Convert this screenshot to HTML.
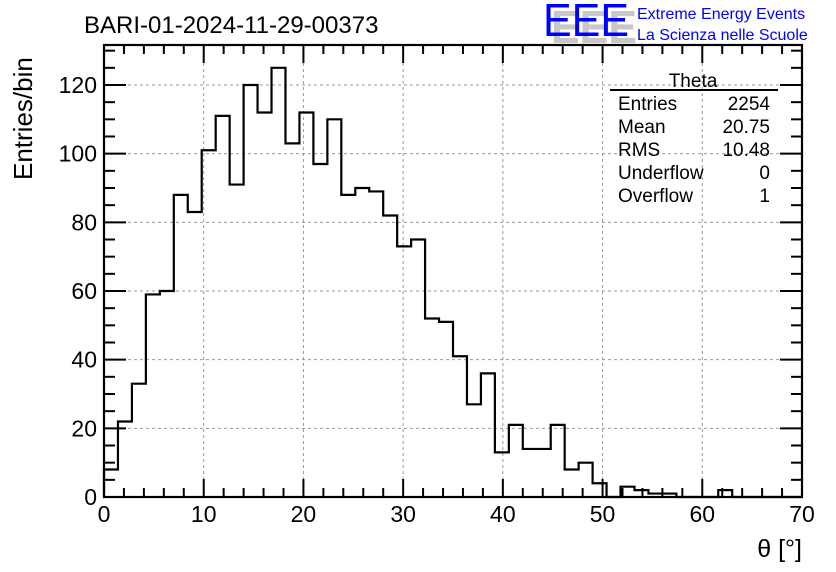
<!DOCTYPE html>
<html><head><meta charset="utf-8"><style>
body{margin:0;background:#fff;}
svg{display:block;font-family:"Liberation Sans",sans-serif;}
</style></head><body>
<svg width="836" height="572" viewBox="0 0 836 572" xmlns="http://www.w3.org/2000/svg">
<rect width="836" height="572" fill="#fff"/>
<g id="grid"></g>
<g id="hist"></g>
<g id="axes"></g>
<text x="84" y="33" font-size="24">BARI-01-2024-11-29-00373</text>
<g>
<text x="547" y="39" font-size="46" fill="#c8c8c8" font-weight="bold" transform="translate(4,4)" textLength="86" lengthAdjust="spacingAndGlyphs">EEE</text>
<text x="543" y="36" font-size="46" fill="#0000ff" textLength="86" lengthAdjust="spacingAndGlyphs">EEE</text>
<text x="637" y="19" font-size="16" fill="#0000ff">Extreme Energy Events</text>
<text x="637" y="40" font-size="16" fill="#0000ff">La Scienza nelle Scuole</text>
</g>
<g font-size="19">
<text x="693" y="87" text-anchor="middle">Theta</text>
<line x1="610" y1="90" x2="778" y2="90" stroke="#000" stroke-width="2"/>
<text x="618" y="110">Entries</text><text x="770" y="110" text-anchor="end">2254</text>
<text x="618" y="133">Mean</text><text x="770" y="133" text-anchor="end">20.75</text>
<text x="618" y="156">RMS</text><text x="770" y="156" text-anchor="end">10.48</text>
<text x="618" y="179">Underflow</text><text x="770" y="179" text-anchor="end">0</text>
<text x="618" y="202">Overflow</text><text x="770" y="202" text-anchor="end">1</text>
</g>
<text font-size="26" transform="translate(32,180) rotate(-90)">Entries/bin</text>
<text x="802" y="557" font-size="25" text-anchor="end">θ [°]</text>
</svg>
<script>
const binCounts=[8,22,33,59,60,88,83,101,111,91,120,112,125,103,112,97,110,88,90,89,82,73,75,52,51,41,27,36,13,21,14,14,21,8,10,4,0,3,2,1,1,0,0,0,2,0,0,0,0,0];
const xTicks=[0,10,20,30,40,50,60,70];
const yTicks=[0,20,40,60,80,100,120];
const xMin=0,xMax=70,binWidth=1.4;
const L=104,R=802,T=45,B=497;
const yPerUnit=(497-85)/120;
const X=v=>L+(v-xMin)/(xMax-xMin)*(R-L);
const Y=v=>B-v*yPerUnit;
const NS="http://www.w3.org/2000/svg";
function mk(t,a,p){const e=document.createElementNS(NS,t);for(const k in a)e.setAttribute(k,a[k]);p.appendChild(e);return e;}
const grid=document.getElementById('grid'),hist=document.getElementById('hist'),axes=document.getElementById('axes');
xTicks.forEach(v=>{if(v>xMin&&v<xMax){const l=mk('line',{x1:X(v),x2:X(v),y1:T,y2:B,stroke:'#999','stroke-dasharray':'3,3'},grid);

}});
yTicks.forEach(v=>{if(v>0){const l=mk('line',{x1:L,x2:R,y1:Y(v),y2:Y(v),stroke:'#999','stroke-dasharray':'3,3'},grid);

}});
let d='M'+X(0)+','+Y(0);
binCounts.forEach((c,i)=>{d+=' L'+X(i*binWidth)+','+Y(c)+' L'+X((i+1)*binWidth)+','+Y(c);});
d+=' L'+X(binCounts.length*binWidth)+','+Y(0);
const p=mk('path',{d:d,fill:'none',stroke:'#000','stroke-width':2.2},hist);


const f=mk('rect',{x:L,y:T,width:R-L,height:B-T,fill:'none',stroke:'#000','stroke-width':2.2},axes);


for(let v=xMin;v<=xMax;v+=2){const maj=v%10===0;const h=maj?18:9;
mk('line',{x1:X(v),x2:X(v),y1:B,y2:B-h,stroke:'#000','stroke-width':2},axes);
mk('line',{x1:X(v),x2:X(v),y1:T,y2:T+h,stroke:'#000','stroke-width':2},axes);}
for(let v=0;v<=130;v+=5){const maj=v%20===0;const w=maj?22:11;
mk('line',{x1:L,x2:L+w,y1:Y(v),y2:Y(v),stroke:'#000','stroke-width':2},axes);
mk('line',{x1:R,x2:R-w,y1:Y(v),y2:Y(v),stroke:'#000','stroke-width':2},axes);}
xTicks.forEach(v=>{const t=mk('text',{x:X(v),y:522,'font-size':23,'text-anchor':'middle'},axes);t.textContent=v;

});
yTicks.forEach(v=>{const t=mk('text',{x:97,y:Y(v)+8,'font-size':23,'text-anchor':'end'},axes);t.textContent=v;

});
</script>
</body></html>
